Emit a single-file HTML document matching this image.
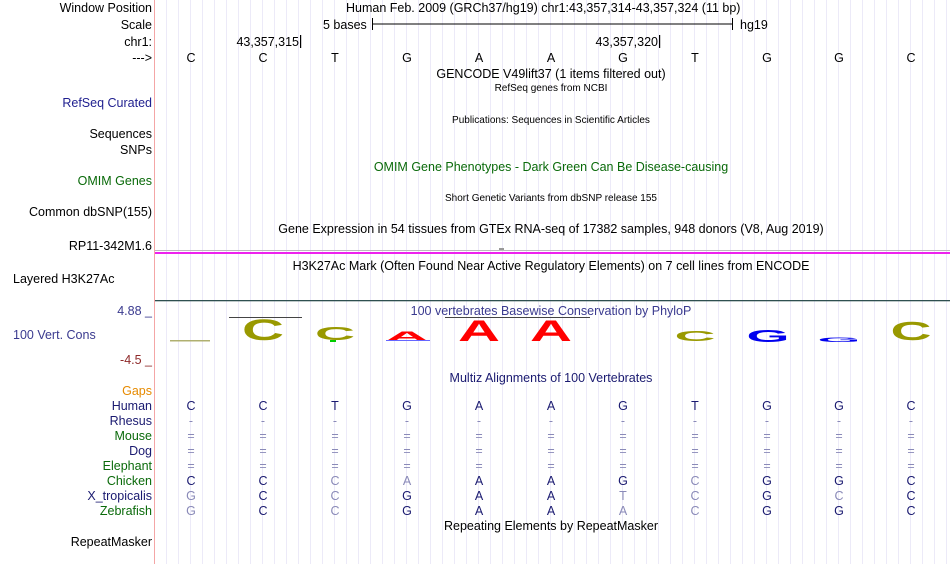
<!DOCTYPE html>
<html><head><meta charset="utf-8"><style>
html,body{margin:0;padding:0;background:#fff;width:950px;height:564px;overflow:hidden}
svg{display:block}
text{font-family:"Liberation Sans",Arial,sans-serif}
</style></head><body>
<svg width="950" height="564" viewBox="0 0 950 564" xmlns="http://www.w3.org/2000/svg">
<defs>
<pattern id="g" x="155" y="0" width="12" height="564" patternUnits="userSpaceOnUse">
<rect x="11.5" y="0" width="1" height="564" fill="#d8d4f2"/>
</pattern>
</defs>
<rect x="155" y="0" width="795" height="564" fill="url(#g)"/>
<rect x="154" y="0" width="1" height="564" fill="#f4a6a6"/>

<!-- left labels -->
<g font-size="12.5" text-anchor="end" fill="#000">
<text x="152" y="12">Window Position</text>
<text x="152" y="29">Scale</text>
<text x="152" y="46">chr1:</text>
<text x="152" y="62">---&gt;</text>
<text x="152" y="107" fill="#1f1f8f">RefSeq Curated</text>
<text x="152" y="138">Sequences</text>
<text x="152" y="154">SNPs</text>
<text x="152" y="185" fill="#0a6a0a">OMIM Genes</text>
<text x="152" y="216">Common dbSNP(155)</text>
<text x="152" y="250">RP11-342M1.6</text>
<text x="152" y="315" fill="#3a3a8f">4.88 _</text>
<text x="152" y="364" fill="#8f2a2a">-4.5 _</text>
<text x="152" y="395" fill="#e68a00">Gaps</text>
<text x="152" y="410" fill="#1a1a70">Human</text>
<text x="152" y="425" fill="#1a1a70">Rhesus</text>
<text x="152" y="440" fill="#0a6a0a">Mouse</text>
<text x="152" y="455" fill="#1a1a70">Dog</text>
<text x="152" y="470" fill="#0a6a0a">Elephant</text>
<text x="152" y="485" fill="#0a6a0a">Chicken</text>
<text x="152" y="500" fill="#1a1a70">X_tropicalis</text>
<text x="152" y="515" fill="#0a6a0a">Zebrafish</text>
<text x="152" y="546">RepeatMasker</text>
</g>
<g font-size="12.5" fill="#000">
<text x="13" y="283">Layered H3K27Ac</text>
<text x="13" y="339" fill="#3a3a8f">100 Vert. Cons</text>
</g>

<!-- top -->
<g font-size="12.5" fill="#000">
<text x="346" y="12">Human Feb. 2009 (GRCh37/hg19)   chr1:43,357,314-43,357,324 (11 bp)</text>
<text x="323" y="29">5 bases</text>
<text x="740" y="29">hg19</text>
<text x="299" y="46" text-anchor="end">43,357,315</text>
<text x="658" y="46" text-anchor="end">43,357,320</text>
</g>
<rect x="372" y="23.5" width="361" height="1" fill="#000"/>
<rect x="372" y="18" width="1" height="12" fill="#000"/>
<rect x="732" y="18" width="1" height="12" fill="#000"/>
<rect x="300" y="35" width="1.2" height="13" fill="#000"/>
<rect x="659" y="35" width="1.2" height="13" fill="#000"/>

<g font-size="12.5" text-anchor="middle" fill="#000">
<text x="191" y="62">C</text><text x="263" y="62">C</text><text x="335" y="62">T</text><text x="407" y="62">G</text><text x="479" y="62">A</text><text x="551" y="62">A</text><text x="623" y="62">G</text><text x="695" y="62">T</text><text x="767" y="62">G</text><text x="839" y="62">G</text><text x="911" y="62">C</text>
<text x="551" y="78">GENCODE V49lift37 (1 items filtered out)</text>
<text x="551" y="91" font-size="10">RefSeq genes from NCBI</text>
<text x="551" y="123" font-size="10">Publications: Sequences in Scientific Articles</text>
<text x="551" y="171" fill="#0a6a0a">OMIM Gene Phenotypes - Dark Green Can Be Disease-causing</text>
<text x="551" y="201" font-size="10">Short Genetic Variants from dbSNP release 155</text>
<text x="551" y="233">Gene Expression in 54 tissues from GTEx RNA-seq of 17382 samples, 948 donors (V8, Aug 2019)</text>
<text x="551" y="270">H3K27Ac Mark (Often Found Near Active Regulatory Elements) on 7 cell lines from ENCODE</text>
<text x="551" y="315" fill="#3a3a8f">100 vertebrates Basewise Conservation by PhyloP</text>
<text x="551" y="382" fill="#1a1a70">Multiz Alignments of 100 Vertebrates</text>
<text x="551" y="530">Repeating Elements by RepeatMasker</text>
</g>

<rect x="155" y="250" width="795" height="1" fill="#bbb"/>
<rect x="499" y="248" width="5" height="2" fill="#999"/>
<rect x="155" y="252" width="795" height="2" fill="#ee22ee"/>
<rect x="155" y="300" width="795" height="1.3" fill="#2f5050"/>
<rect x="229" y="317" width="73" height="1" fill="#444"/>
<rect x="445" y="317" width="145" height="1" fill="#444"/>

<!-- conservation logos -->
<rect x="170" y="340" width="40" height="1.5" fill="#b0b070"/>
<g font-size="30" font-weight="bold" text-anchor="middle">
<text transform="translate(263,340) scale(1,0.98)" textLength="42" lengthAdjust="spacingAndGlyphs" fill="#999900">C</text>
<text transform="translate(335,340) scale(1,0.62)" textLength="40" lengthAdjust="spacingAndGlyphs" fill="#999900">C</text>
<text transform="translate(407,341) scale(1,0.45)" textLength="44" lengthAdjust="spacingAndGlyphs" fill="#ff0000">A</text>
<text transform="translate(479,341) scale(1,1.0)" textLength="42" lengthAdjust="spacingAndGlyphs" fill="#ff0000">A</text>
<text transform="translate(551,341) scale(1,1.0)" textLength="42" lengthAdjust="spacingAndGlyphs" fill="#ff0000">A</text>
<text transform="translate(695,341) scale(1,0.5)" textLength="41" lengthAdjust="spacingAndGlyphs" fill="#999900">C</text>
<text transform="translate(768,342) scale(1,0.6)" textLength="43" lengthAdjust="spacingAndGlyphs" fill="#0000ee">G</text>
<text transform="translate(839,342) scale(1,0.2)" textLength="43" lengthAdjust="spacingAndGlyphs" fill="#0000ee">G</text>
<text transform="translate(911,340) scale(1,0.85)" textLength="41" lengthAdjust="spacingAndGlyphs" fill="#999900">C</text>
</g>
<rect x="330" y="340" width="6" height="2" fill="#00cc00"/>
<rect x="386" y="340" width="44" height="1" fill="#6666ff"/>

<!-- alignment -->
<g font-size="12.5" text-anchor="middle" fill="#1a1a70">
<text x="191" y="410">C</text><text x="263" y="410">C</text><text x="335" y="410">T</text><text x="407" y="410">G</text><text x="479" y="410">A</text><text x="551" y="410">A</text><text x="623" y="410">G</text><text x="695" y="410">T</text><text x="767" y="410">G</text><text x="839" y="410">G</text><text x="911" y="410">C</text>
</g>
<g font-size="12.5" text-anchor="middle" fill="#8a8ab8">
<text x="191" y="425">-</text><text x="263" y="425">-</text><text x="335" y="425">-</text><text x="407" y="425">-</text><text x="479" y="425">-</text><text x="551" y="425">-</text><text x="623" y="425">-</text><text x="695" y="425">-</text><text x="767" y="425">-</text><text x="839" y="425">-</text><text x="911" y="425">-</text>
<text x="191" y="440">=</text><text x="263" y="440">=</text><text x="335" y="440">=</text><text x="407" y="440">=</text><text x="479" y="440">=</text><text x="551" y="440">=</text><text x="623" y="440">=</text><text x="695" y="440">=</text><text x="767" y="440">=</text><text x="839" y="440">=</text><text x="911" y="440">=</text>
<text x="191" y="455">=</text><text x="263" y="455">=</text><text x="335" y="455">=</text><text x="407" y="455">=</text><text x="479" y="455">=</text><text x="551" y="455">=</text><text x="623" y="455">=</text><text x="695" y="455">=</text><text x="767" y="455">=</text><text x="839" y="455">=</text><text x="911" y="455">=</text>
<text x="191" y="470">=</text><text x="263" y="470">=</text><text x="335" y="470">=</text><text x="407" y="470">=</text><text x="479" y="470">=</text><text x="551" y="470">=</text><text x="623" y="470">=</text><text x="695" y="470">=</text><text x="767" y="470">=</text><text x="839" y="470">=</text><text x="911" y="470">=</text>
<text x="335" y="485">C</text><text x="407" y="485">A</text><text x="695" y="485">C</text>
<text x="191" y="500">G</text><text x="335" y="500">C</text><text x="623" y="500">T</text><text x="695" y="500">C</text><text x="839" y="500">C</text>
<text x="191" y="515">G</text><text x="335" y="515">C</text><text x="623" y="515">A</text><text x="695" y="515">C</text>
</g>
<g font-size="12.5" text-anchor="middle" fill="#1a1a70">
<text x="191" y="485">C</text><text x="263" y="485">C</text><text x="479" y="485">A</text><text x="551" y="485">A</text><text x="623" y="485">G</text><text x="767" y="485">G</text><text x="839" y="485">G</text><text x="911" y="485">C</text>
<text x="263" y="500">C</text><text x="407" y="500">G</text><text x="479" y="500">A</text><text x="551" y="500">A</text><text x="767" y="500">G</text><text x="911" y="500">C</text>
<text x="263" y="515">C</text><text x="407" y="515">G</text><text x="479" y="515">A</text><text x="551" y="515">A</text><text x="767" y="515">G</text><text x="839" y="515">G</text><text x="911" y="515">C</text>
</g>
</svg>
</body></html>
